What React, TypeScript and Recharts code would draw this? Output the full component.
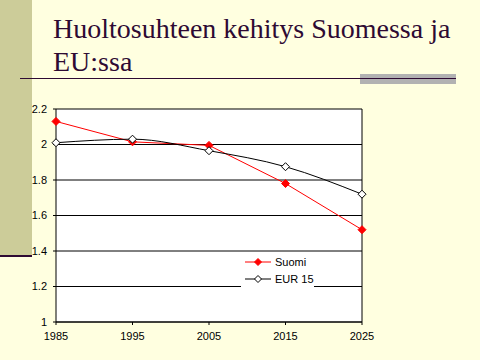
import React from "react";
import {
  LineChart,
  Line,
  XAxis,
  YAxis,
  CartesianGrid,
  ReferenceLine,
} from "recharts";

const years = [1985, 1995, 2005, 2015, 2025];
const suomi = [2.13, 2.015, 1.995, 1.78, 1.52];
const eur15 = [2.01, 2.03, 1.965, 1.875, 1.72];
const yTicks = [1, 1.2, 1.4, 1.6, 1.8, 2, 2.2];

const chartData = years.map((year, i) => ({
  year,
  suomi: suomi[i],
  eur15: eur15[i],
}));

const BG = "#FFFFE0";
const INK = "#2E0A33";
const SANS = '"Liberation Sans", Arial, sans-serif';
const SERIF = '"Liberation Serif", "Times New Roman", serif';
const tickStyle = { fill: "#000", fontSize: 11, fontFamily: SANS };

function Diamond(props: any) {
  const { cx, cy, fill, stroke, r = 4 } = props;
  if (cx == null || cy == null) return null;
  return (
    <path
      d={`M${cx},${cy - r}L${cx + r},${cy}L${cx},${cy + r}L${cx - r},${cy}Z`}
      fill={fill}
      stroke={stroke}
      strokeWidth={1}
    />
  );
}

const legendItems = [
  { label: "Suomi", color: "#FF0000", fill: "#FF0000" },
  { label: "EUR 15", color: "#000", fill: "#fff" },
];

function LegendBox() {
  return (
    <div style={{ position: "absolute", left: 241, top: 253, width: 73, height: 37, background: "#fff" }}>
      {legendItems.map((it) => (
        <div key={it.label} style={{ display: "flex", alignItems: "center", height: 17.5 }}>
          <svg width={32} height={10} style={{ marginLeft: 4 }}>
            <line x1={0} y1={5} x2={26} y2={5} stroke={it.color} strokeWidth={1} />
            <Diamond cx={13} cy={5} r={3.5} fill={it.fill} stroke={it.color} />
          </svg>
          <span style={{ fontFamily: SANS, fontSize: 11, color: "#000", marginLeft: -2 }}>{it.label}</span>
        </div>
      ))}
    </div>
  );
}

export default function App() {
  return (
    <div style={{ position: "absolute", left: 0, top: 0, width: 480, height: 360, background: BG, overflow: "hidden" }}>
      <div style={{ position: "absolute", left: 0, top: 0, width: 32, height: 255, background: "#CCCC99" }} />
      <div style={{ position: "absolute", left: 0, top: 255, width: 32, height: 2, background: INK }} />
      <div style={{ position: "absolute", left: 360, top: 74, width: 96, height: 10, background: "#B2B2B2" }} />
      <div style={{ position: "absolute", left: 20, top: 78, width: 436, height: 1, background: INK }} />
      <div
        style={{
          position: "absolute",
          left: 53,
          top: 12,
          fontFamily: SERIF,
          fontSize: 28,
          lineHeight: "33px",
          color: INK,
          whiteSpace: "nowrap",
        }}
      >
        Huoltosuhteen kehitys Suomessa ja
        <br />
        EU:ssa
      </div>
      <div style={{ position: "absolute", left: 0, top: 0 }}>
        <LineChart width={480} height={360} data={chartData} margin={{ top: 109, right: 118, bottom: 8, left: 16 }}>
          <CartesianGrid vertical={false} stroke="#000" fill="#fff" fillOpacity={1} />
          <XAxis
            dataKey="year"
            type="number"
            domain={[1985, 2025]}
            ticks={years}
            tick={{ ...tickStyle, dy: 5 }}
            tickLine={{ stroke: "#000" }}
            tickSize={3}
            axisLine={{ stroke: "#000" }}
            height={30}
          />
          <YAxis
            domain={[1, 2.2]}
            ticks={yTicks}
            tick={{ ...tickStyle, dx: -4 }}
            tickLine={{ stroke: "#000" }}
            tickSize={3}
            axisLine={{ stroke: "#000" }}
            width={40}
            interval={0}
          />
          <ReferenceLine x={2025} stroke="#000" />
          <Line
            type="linear"
            dataKey="suomi"
            stroke="#FF0000"
            strokeWidth={1}
            dot={<Diamond fill="#FF0000" stroke="#FF0000" r={4} />}
            isAnimationActive={false}
          />
          <Line
            type="monotone"
            dataKey="eur15"
            stroke="#000"
            strokeWidth={1}
            dot={<Diamond fill="#fff" stroke="#000" r={4} />}
            isAnimationActive={false}
          />
        </LineChart>
      </div>
      <LegendBox />
    </div>
  );
}
